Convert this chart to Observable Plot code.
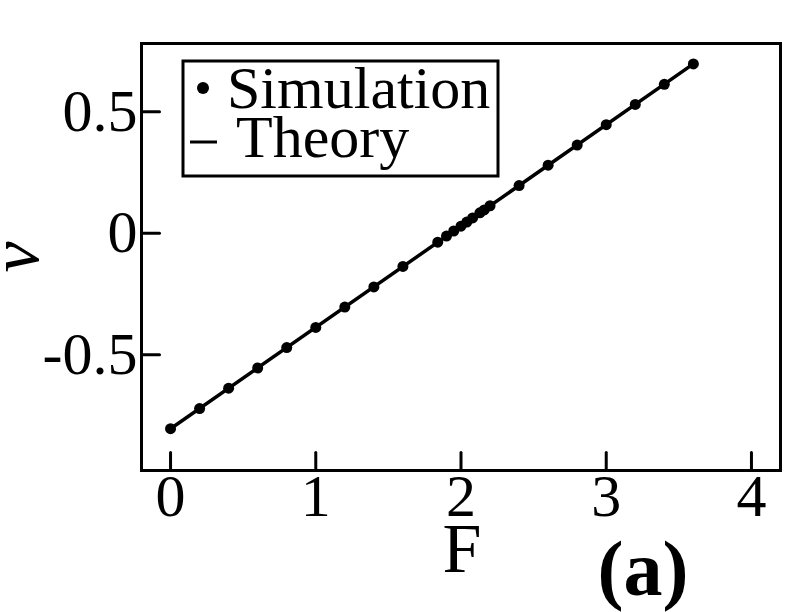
<!DOCTYPE html>
<html>
<head>
<meta charset="utf-8">
<script src="https://cdn.jsdelivr.net/npm/d3@7"></script>
<script src="https://cdn.jsdelivr.net/npm/@observablehq/plot@0.6"></script>
<style>
  html, body { margin: 0; padding: 0; background: #fff; }
  #chart { position: relative; width: 792px; height: 612px; }
</style>
</head>
<body>
<div id="chart"></div>
<script>
// ---- data ----
const simF = [0, 0.2, 0.4, 0.6, 0.8, 1.0, 1.2, 1.4, 1.6, 1.84, 1.9, 1.95, 2.0, 2.04, 2.08, 2.13, 2.16, 2.2, 2.4, 2.6, 2.8, 3.0, 3.2, 3.4, 3.6];
const simV = [-0.805, -0.722, -0.638, -0.555, -0.471, -0.388, -0.304, -0.221, -0.137, -0.037, -0.012, 0.009, 0.029, 0.046, 0.063, 0.084, 0.096, 0.113, 0.196, 0.280, 0.363, 0.447, 0.530, 0.613, 0.697];
const theoryF = [0, 3.6];
const theoryV = [-0.805, 0.697];
const xTicks = [0, 1, 2, 3, 4];
const xTickLabels = ["0", "1", "2", "3", "4"];
const yTicks = [-0.5, 0, 0.5];
const yTickLabels = ["-0.5", "0", "0.5"];
const seriesNames = ["Simulation", "Theory"];
const xLabel = "F";
const yLabel = "v";
const panelLabel = "(a)";

const sim = simF.map((f, i) => ({F: f, v: simV[i]}));
const theory = theoryF.map((f, i) => ({F: f, v: theoryV[i]}));

const tickShape = {
  draw(context, l) { context.moveTo(0, 0); context.lineTo(0, -l); }
};

const serif = "'Liberation Serif', 'Times New Roman', serif";

const plot = Plot.plot({
  width: 792,
  height: 612,
  marginLeft: 141,
  marginRight: 12,
  marginTop: 43,
  marginBottom: 142,
  style: {fontFamily: serif, fontSize: "60px", color: "black", background: "white"},
  x: {domain: [-0.2, 4.2], axis: null},
  y: {domain: [-0.977, 0.781], axis: null},
  marks: [
    Plot.axisX({ticks: xTicks, tickSize: 0, tickPadding: 3, fontSize: 60, label: null,
      tickFormat: d => xTickLabels[xTicks.indexOf(d)]}),
    Plot.axisY({ticks: yTicks, tickSize: 0, tickPadding: 4, fontSize: 60, label: null,
      tickFormat: d => yTickLabels[yTicks.indexOf(d)]}),
    Plot.vector(xTicks, {x: d => d, frameAnchor: "bottom", rotate: 0, length: 18, anchor: "start", shape: tickShape, strokeWidth: 3, stroke: "black"}),
    Plot.vector(yTicks, {y: d => d, frameAnchor: "left", rotate: 90, length: 18, anchor: "start", shape: tickShape, strokeWidth: 3, stroke: "black"}),
    Plot.line(theory, {x: "F", y: "v", stroke: "black", strokeWidth: 3.5}),
    Plot.dot(sim, {x: "F", y: "v", r: 5.5, fill: "black", stroke: "none"}),
    Plot.frame({stroke: "black", strokeWidth: 3})
  ]
});

const svg = d3.select(plot);

// axis labels
svg.append("text")
  .attr("x", 462).attr("y", 572)
  .attr("text-anchor", "middle")
  .style("font-family", serif).style("font-size", "70px")
  .text(xLabel);

svg.append("text")
  .attr("transform", "translate(38,257) rotate(-90)")
  .attr("text-anchor", "middle")
  .style("font-family", serif).style("font-size", "70px").style("font-style", "italic")
  .text(yLabel);

svg.append("text")
  .attr("x", 643).attr("y", 595)
  .attr("text-anchor", "middle")
  .style("font-family", serif).style("font-size", "78px").style("font-weight", "bold")
  .text(panelLabel);

// legend
const lg = svg.append("g");
lg.append("rect").attr("x", 183).attr("y", 61).attr("width", 315).attr("height", 115)
  .attr("fill", "white").attr("stroke", "black").attr("stroke-width", 3);
lg.append("circle").attr("cx", 203).attr("cy", 88).attr("r", 6).attr("fill", "black");
lg.append("line").attr("x1", 190).attr("x2", 217).attr("y1", 142).attr("y2", 142)
  .attr("stroke", "black").attr("stroke-width", 3);
lg.append("text").attr("x", 227).attr("y", 108).attr("text-anchor", "start")
  .style("font-family", serif).style("font-size", "60px").text(seriesNames[0]);
lg.append("text").attr("x", 236).attr("y", 157).attr("text-anchor", "start")
  .style("font-family", serif).style("font-size", "60px").text(seriesNames[1]);

document.getElementById("chart").appendChild(plot);
</script>
</body>
</html>
